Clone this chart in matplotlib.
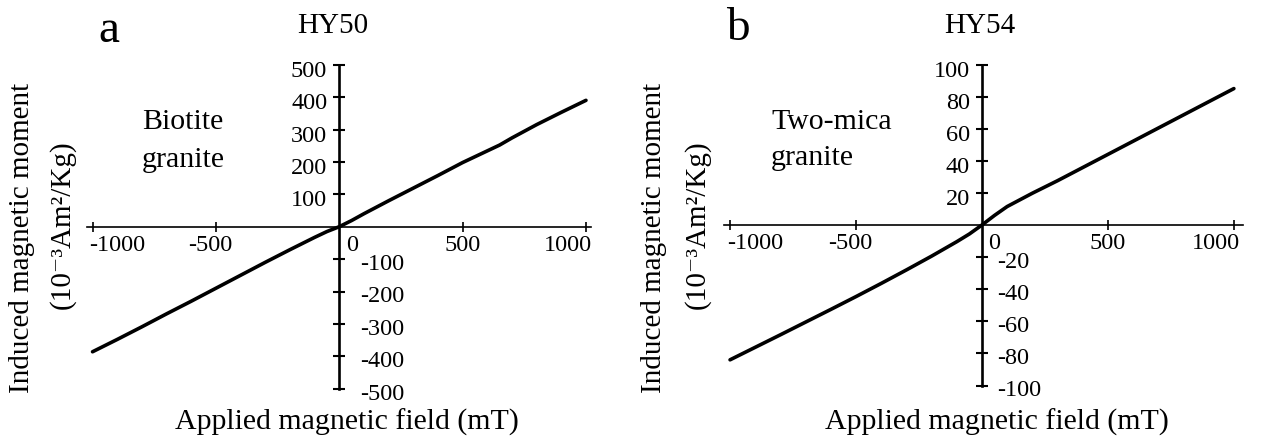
import matplotlib.pyplot as plt

plt.rcParams['font.family'] = ['Liberation Serif', 'DejaVu Serif']

# HY50 - biotite granite
field_a = [-1000, -900, -800, -700, -600, -500, -400, -300, -200, -100, -50, 0,
           50, 100, 200, 300, 400, 500, 600, 650, 700, 800, 900, 1000]
moment_a = [-386, -348, -309, -269, -230, -190, -150, -110, -71, -33, -15, 0,
            19, 40, 80, 119, 158, 198, 234, 252, 274, 315, 353, 390]

# HY54 - two-mica granite
field_b = [-1000, -900, -800, -700, -600, -500, -400, -300, -200, -100, -50, 0,
           50, 100, 200, 300, 400, 500, 600, 700, 800, 900, 1000]
moment_b = [-84, -76.2, -68.4, -60.5, -52.6, -44.6, -36.4, -28, -19.4, -10.4, -5.6, 0,
            6, 11.5, 19.8, 27.6, 35.8, 44, 52.2, 60.4, 68.6, 76.8, 85]

x_ticks = [-1000, -500, 500, 1000]
y_ticks_a = [-500, -400, -300, -200, -100, 100, 200, 300, 400, 500]
y_ticks_b = [-100, -80, -60, -40, -20, 20, 40, 60, 80, 100]

W, H = 1267, 445
PT = 0.72  # pixels -> points at dpi 100

fig = plt.figure(figsize=(W / 100, H / 100), dpi=100)


def ftext(x, y, s, **kw):
    # figure text placed in pixel coords (from top-left)
    fig.text(x / W, 1 - y / H, s, **kw)


panels = [
    dict(field=field_a, moment=moment_a, yticks=y_ticks_a, xlim=(-1022, 1022),
         ylim=(-500, 500), box=(87.1, 64.7, 591.4, 388.7), neg_gap=21,
         title='HY50', title_x=333, letter='a', letter_x=109, letter_y=41.7,
         rock=['Biotite', 'granite'], rock_x=142, rock_y=[129, 167],
         ylab_x=[22, 62], xlab_x=347),
    dict(field=field_b, moment=moment_b, yticks=y_ticks_b, xlim=(-1026, 1037),
         ylim=(-100, 100), box=(723.5, 64.5, 1243.2, 385.5), neg_gap=15,
         title='HY54', title_x=980, letter='b', letter_x=738, letter_y=40,
         rock=['Two-mica', 'granite'], rock_x=771, rock_y=[129, 165],
         ylab_x=[654, 697], xlab_x=996.5),
]

TICK_FS = 17.5

for p in panels:
    l, t, r, b = p['box']
    ax = fig.add_axes([l / W, 1 - b / H, (r - l) / W, (b - t) / H])
    ax.plot(p['field'], p['moment'], color='black', lw=2.6,
            solid_capstyle='round', solid_joinstyle='round', clip_on=False)
    ax.set_xlim(p['xlim'])
    ax.set_ylim(p['ylim'])

    for s in ['top', 'right']:
        ax.spines[s].set_visible(False)
    ax.spines['left'].set_position(('data', 0))
    ax.spines['bottom'].set_position(('data', 0))
    ax.spines['left'].set_linewidth(1.9)
    ax.spines['bottom'].set_linewidth(1.2)

    ax.set_xticks(x_ticks)
    ax.set_yticks(p['yticks'])
    ax.tick_params(axis='x', direction='inout', length=7, width=1.2,
                   labelbottom=False)
    ax.tick_params(axis='y', direction='inout', length=8, width=1.5,
                   labelleft=False)

    # x tick labels (hand placed like the original)
    xlab_style = {-1000: ('left', -3), -500: ('center', -6),
                  500: ('center', 0), 1000: ('right', 6)}
    for x in x_ticks:
        ha, dx = xlab_style[x]
        ax.annotate(f'{x}', xy=(x, 0), xytext=(dx * PT, -8 * PT),
                    textcoords='offset points', ha=ha, va='top',
                    fontsize=TICK_FS)
    ax.annotate('0', xy=(0, 0), xytext=(6.5 * PT, -8 * PT),
                textcoords='offset points', ha='left', va='top',
                fontsize=TICK_FS)

    # y tick labels: positive on the left, negative on the right
    for y in p['yticks']:
        if y > 0:
            ha, dx, dy = 'right', -12, -12
        else:
            ha, dx, dy = 'left', p['neg_gap'], -11
        ax.annotate(f'{y}', xy=(0, y), xytext=(dx * PT, dy * PT),
                    textcoords='offset points', ha=ha, va='baseline',
                    fontsize=TICK_FS)

    # titles and labels
    ftext(p['title_x'], 33, p['title'], ha='center', va='baseline', fontsize=21)
    ftext(p['letter_x'], p['letter_y'], p['letter'], ha='center',
          va='baseline', fontsize=34)
    for line, yb in zip(p['rock'], p['rock_y']):
        ftext(p['rock_x'], yb, line, ha='left', va='baseline', fontsize=21.5)
    ftext(p['xlab_x'], 430, 'Applied magnetic field (mT)', ha='center',
          va='baseline', fontsize=21.5)
    ftext(p['ylab_x'][0], 238, 'Induced magnetic moment', ha='center',
          va='center', rotation=90, fontsize=21)
    ftext(p['ylab_x'][1], 225, '(10\u207b\u00b3Am\u00b2/Kg)', ha='center',
          va='center', rotation=90, fontsize=21)

fig.savefig('out.png', dpi=100)
